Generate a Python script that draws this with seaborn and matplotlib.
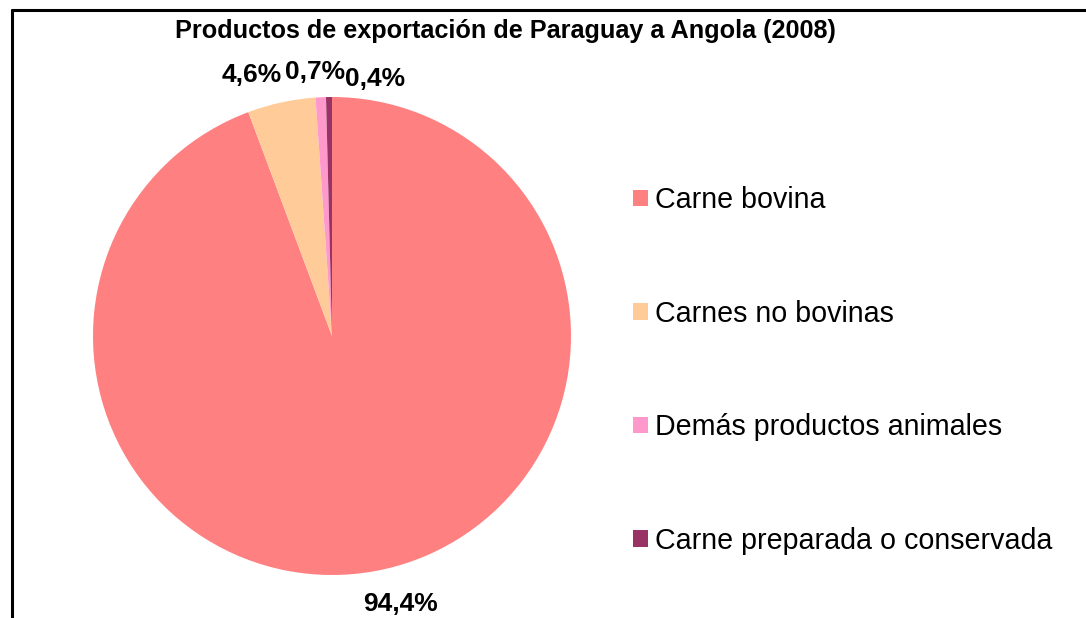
import matplotlib
matplotlib.use("Agg")
import matplotlib.pyplot as plt
import seaborn as sns
from matplotlib.lines import Line2D
from matplotlib.patches import Patch

categories = ["Carne bovina", "Carnes no bovinas", "Demás productos animales",
              "Carne preparada o conservada"]
values = [94.4, 4.6, 0.7, 0.4]
value_labels = ["94,4%", "4,6%", "0,7%", "0,4%"]
colors = ["#FF8080", "#FFCC99", "#FF99CC", "#993366"]
title = "Productos de exportación de Paraguay a Angola (2008)"

sns.set_theme(style="white")
plt.rcParams["font.family"] = ["Liberation Sans", "DejaVu Sans"]

W, H = 1086, 618
fig = plt.figure(figsize=(W / 100, H / 100), dpi=100)

cx, cy, r = 332, 336, 239
ax = fig.add_axes([(cx - r) / W, (H - cy - r) / H, 2 * r / W, 2 * r / H])
wedges, _ = ax.pie(values, colors=colors, startangle=90, counterclock=False,
                   wedgeprops=dict(linewidth=0))
ax.set_xlim(-1, 1)
ax.set_ylim(-1, 1)
ax.set_aspect("auto")
ax.axis("off")

# data labels placed outside the wedges (Excel-like, spread to avoid overlap)
label_pos = [(0.285, -1.12), (-0.335, 1.09), (-0.071, 1.105), (0.18, 1.075)]
for (lx, ly), txt in zip(label_pos, value_labels):
    ax.text(lx, ly, txt, ha="center", va="center", fontsize=19,
            fontweight="bold", color="black", clip_on=False)

fig.text(505 / W, 1 - 31 / H, title, ha="center", va="center",
         fontsize=18.2, fontweight="bold", color="black")

handles = [Patch(facecolor=c, edgecolor="none") for c in colors]
leg = fig.legend(handles, categories, loc="upper left",
                 bbox_to_anchor=(633 / W, 1 - 186 / H), frameon=False,
                 fontsize=20.6, handlelength=0.52, handleheight=0.52,
                 handletextpad=0.25, labelspacing=2.99, borderaxespad=0,
                 borderpad=0)
for t in leg.get_texts():
    t.set_color("black")

# chart-area border (left and top visible)
lw = 2.2
fig.add_artist(Line2D([11.5 / W, 11.5 / W], [0, 1 - 9.5 / H], color="black",
                      linewidth=lw, transform=fig.transFigure))
fig.add_artist(Line2D([11.5 / W, 1], [1 - 9.5 / H, 1 - 9.5 / H], color="black",
                      linewidth=lw, transform=fig.transFigure))

fig.savefig("out.png", dpi=100, facecolor="white")
